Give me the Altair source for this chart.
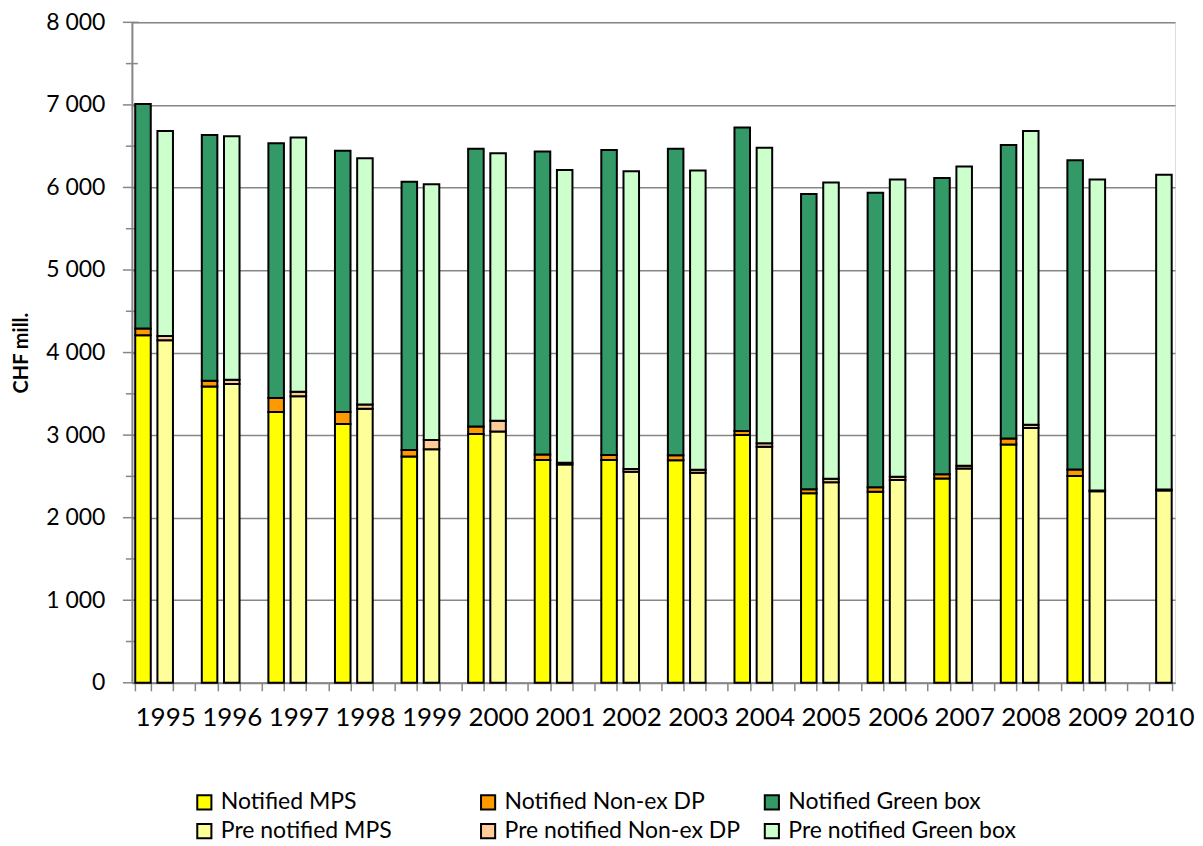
import altair as alt
import pandas as pd

years = [1995, 1996, 1997, 1998, 1999, 2000, 2001, 2002, 2003, 2004, 2005, 2006, 2007, 2008, 2009, 2010]

notified_mps = [4210, 3590, 3280, 3135, 2740, 3015, 2700, 2700, 2695, 3000, 2295, 2315, 2475, 2885, 2505, None]
notified_nonex = [80, 70, 170, 145, 80, 90, 65, 60, 60, 50, 50, 55, 50, 75, 80, None]
notified_green = [2720, 2975, 3085, 3165, 3250, 3365, 3670, 3695, 3715, 3675, 3575, 3565, 3590, 3555, 3745, None]

pre_mps = [4150, 3620, 3470, 3320, 2830, 3045, 2645, 2555, 2545, 2860, 2430, 2455, 2595, 3085, 2320, 2330]
pre_nonex = [50, 50, 55, 50, 110, 130, 20, 35, 35, 40, 40, 40, 35, 40, 10, 10]
pre_green = [2485, 2950, 3080, 2985, 3100, 3240, 3545, 3605, 3625, 3580, 3590, 3600, 3625, 3560, 3765, 3815]

series_names = ["Notified MPS", "Notified Non-ex DP", "Notified Green box",
                "Pre notified MPS", "Pre notified Non-ex DP", "Pre notified Green box"]
series_colors = ["#FFFF00", "#FF9900", "#339966", "#FFFF99", "#FFCC99", "#CCFFCC"]

major_ticks = [0, 1000, 2000, 3000, 4000, 5000, 6000, 7000, 8000]
minor_ticks = [500, 1500, 2500, 3500, 4500, 5500, 6500, 7500]

# category slots: Notified, Pre notified, blank gap (no gap after last year)
slots = []
for i, y in enumerate(years):
    slots.append(f"{y}|N")
    slots.append(f"{y}|P")
    if i < len(years) - 1:
        slots.append(f"{y}|X")

rows = []
groups = [
    ("N", [notified_mps, notified_nonex, notified_green], series_names[0:3]),
    ("P", [pre_mps, pre_nonex, pre_green], series_names[3:6]),
]
for kind, arrays, names in groups:
    for order, (arr, name) in enumerate(zip(arrays, names)):
        for y, v in zip(years, arr):
            if v is not None:
                rows.append({"slot": f"{y}|{kind}", "series": name, "value": v, "ord": order})
df = pd.DataFrame(rows)

FONT = "Lato"
GRAY = "#868686"

y_axis = alt.Axis(
    title="CHF mill.", titleFont=FONT, titleFontSize=20, titleFontWeight="bold",
    titleColor="black", titlePadding=14,
    values=major_ticks, ticks=False, tickSize=0, labelPadding=27,
    labelExpr="replace(format(datum.value, ','), ',', ' ')",
    labelFont=FONT, labelFontSize=23, labelColor="black",
    domainColor=GRAY, domainWidth=2,
    grid=True, gridColor=GRAY, gridWidth=1.5)
y_scale = alt.Scale(domain=[0, 8000], nice=False)

bars = alt.Chart(df).mark_bar(stroke="black", strokeWidth=2).encode(
    x=alt.X("slot:N",
            scale=alt.Scale(domain=slots, paddingInner=0.3, paddingOuter=0.15),
            sort=slots,
            axis=alt.Axis(
                title=None, labelAngle=0, labelOverlap=False,
                labelExpr="split(datum.value, '|')[1] == 'P' ? split(datum.value, '|')[0] : ''",
                tickBand="extent", tickSize=8, tickColor=GRAY, tickWidth=1.5,
                domainColor=GRAY, domainWidth=2, labelPadding=14,
                labelFont=FONT, labelFontSize=26, labelColor="black", grid=False)),
    y=alt.Y("value:Q", stack="zero", scale=y_scale, axis=y_axis),
    color=alt.Color("series:N",
                    scale=alt.Scale(domain=series_names, range=series_colors),
                    legend=alt.Legend(
                        title=None, orient="none", legendX=61, legendY=769,
                        direction="horizontal",
                        columns=3, gridAlign="all", columnPadding=20, rowPadding=5,
                        symbolType="square", symbolSize=200,
                        symbolStrokeColor="black", symbolStrokeWidth=2,
                        symbolOffset=0, labelOffset=5,
                        labelFont=FONT, labelFontSize=23, labelColor="black",
                        labelLimit=400)),
    order=alt.Order("ord:Q"),
)

major_df = pd.DataFrame({"value": major_ticks})
minor_df = pd.DataFrame({"value": minor_ticks})

major_rules = alt.Chart(major_df).mark_rule(color=GRAY, strokeWidth=1.5).encode(
    y=alt.Y("value:Q", scale=y_scale, axis=y_axis), x=alt.value(-9), x2=alt.value(7))
minor_rules = alt.Chart(minor_df).mark_rule(color=GRAY, strokeWidth=1.5).encode(
    y=alt.Y("value:Q", scale=y_scale, axis=y_axis), x=alt.value(-6), x2=alt.value(6))

chart = alt.layer(major_rules, minor_rules, bars).properties(
    width=1044, height=661,
    autosize=alt.AutoSizeParams(type="none"),
    padding={"left": 124, "top": 14, "right": 20, "bottom": 160},
).configure_view(stroke=None).configure(font=FONT)

chart.save("out.html", embed_options={"renderer": "svg", "actions": False})
